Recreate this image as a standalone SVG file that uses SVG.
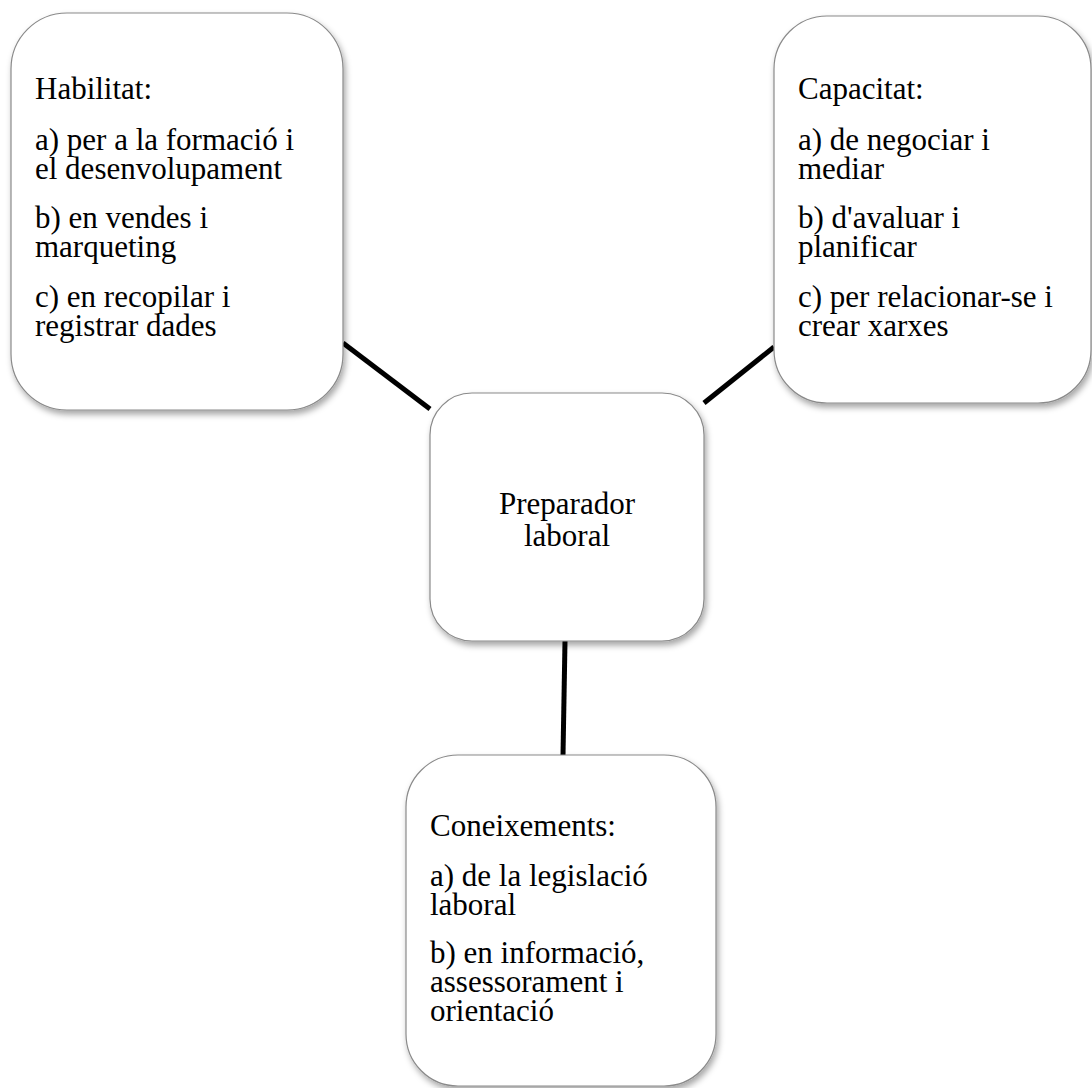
<svg xmlns="http://www.w3.org/2000/svg" width="1092" height="1088" viewBox="0 0 1092 1088">
<style>
.box{fill:#ffffff;stroke:#8a8a8a;stroke-width:1.2;filter:url(#sh);}
.t{font-family:"Liberation Serif","Times New Roman",serif;font-size:31px;fill:#000;}
.c{text-anchor:middle;}
.ln{stroke:#000;stroke-width:5;fill:none;}
</style>
<defs>
<filter id="sh" x="-10%" y="-10%" width="125%" height="125%">
<feDropShadow dx="2" dy="4" stdDeviation="3" flood-color="#000" flood-opacity="0.35"/>
</filter>
</defs>
<rect width="1092" height="1088" fill="#fff"/>
<g id="connectors">
<line class="ln" x1="343" y1="343" x2="430" y2="409"/>
<line class="ln" x1="774" y1="347" x2="704" y2="403"/>
<line class="ln" x1="565" y1="641" x2="563" y2="755"/>
</g>
<g id="node-habilitat">
<rect class="box" x="11" y="13" width="332" height="397" rx="56" ry="56"/>
<text class="t" x="35" y="99">Habilitat:</text>
<text class="t" x="35" y="150">a) per a la formació i</text>
<text class="t" x="35" y="179">el desenvolupament</text>
<text class="t" x="35" y="228">b) en vendes i</text>
<text class="t" x="35" y="257">marqueting</text>
<text class="t" x="35" y="307">c) en recopilar i</text>
<text class="t" x="35" y="336">registrar dades</text>
</g>
<g id="node-capacitat">
<rect class="box" x="774" y="16" width="317" height="387" rx="53" ry="53"/>
<text class="t" x="798" y="99">Capacitat:</text>
<text class="t" x="798" y="150">a) de negociar i</text>
<text class="t" x="798" y="179">mediar</text>
<text class="t" x="798" y="228">b) d'avaluar i</text>
<text class="t" x="798" y="257">planificar</text>
<text class="t" x="798" y="307">c) per relacionar-se i</text>
<text class="t" x="798" y="336">crear xarxes</text>
</g>
<g id="node-preparador">
<rect class="box" x="430" y="393" width="274" height="248" rx="42" ry="42"/>
<text class="t c" x="567" y="514">Preparador</text>
<text class="t c" x="567" y="546">laboral</text>
</g>
<g id="node-coneixements">
<rect class="box" x="406" y="755" width="310" height="331" rx="52" ry="52"/>
<text class="t" x="430" y="836">Coneixements:</text>
<text class="t" x="430" y="886">a) de la legislació</text>
<text class="t" x="430" y="915">laboral</text>
<text class="t" x="430" y="963">b) en informació,</text>
<text class="t" x="430" y="992">assessorament i</text>
<text class="t" x="430" y="1021">orientació</text>
</g>
</svg>
